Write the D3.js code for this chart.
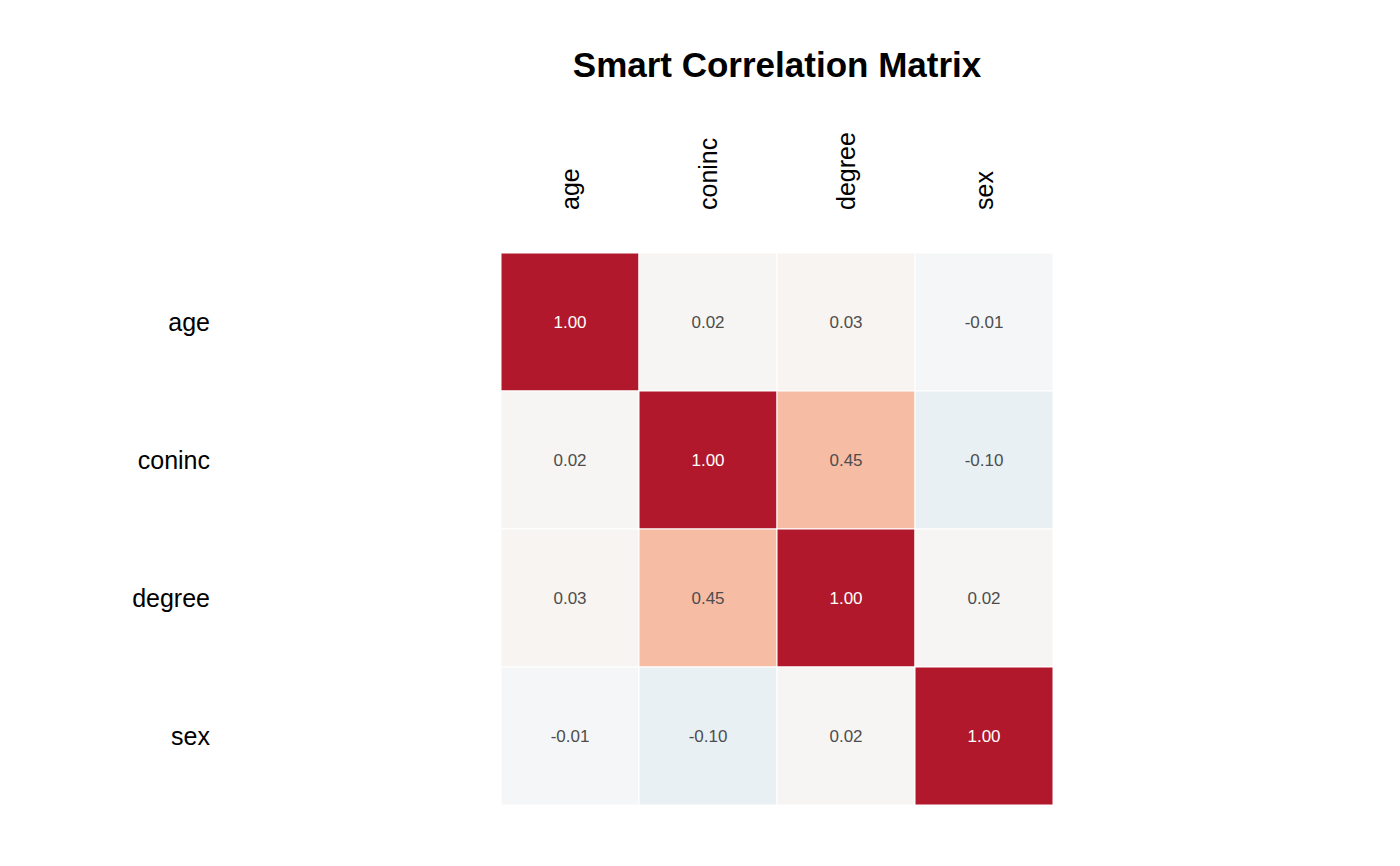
<!DOCTYPE html>
<html>
<head>
<meta charset="utf-8">
<script src="https://cdn.jsdelivr.net/npm/d3@7"></script>
<style>
  html, body { margin: 0; padding: 0; background: #ffffff; }
  svg { display: block; font-family: "Liberation Sans", Arial, Helvetica, sans-serif; }
</style>
</head>
<body>
<svg id="chart" width="1400" height="866"></svg>
<script>
// ---- data ----
const variables = ["age", "coninc", "degree", "sex"];
const rowAge    = [1.00, 0.02, 0.03, -0.01];
const rowConinc = [0.02, 1.00, 0.45, -0.10];
const rowDegree = [0.03, 0.45, 1.00, 0.02];
const rowSex    = [-0.01, -0.10, 0.02, 1.00];
const matrixRows = [rowAge, rowConinc, rowDegree, rowSex];
const titleText = "Smart Correlation Matrix";

// palette stops (RdBu-like)
const colorStops = [-1, -0.75, -0.5, -0.25, 0, 0.25, 0.5, 0.75, 1];
const colorRange = ["#2166AC", "#4393C3", "#92C5DE", "#D1E5F0", "#F7F7F7", "#FDDBC7", "#F6B49B", "#D6604D", "#B2182B"];

const cells = [];
matrixRows.forEach((row, i) => row.forEach((v, j) => cells.push({ row: variables[i], col: variables[j], value: v })));

const svg = d3.select("#chart");
const gridLeft = 501, gridTop = 253, gridSize = 552;

const x = d3.scaleBand().domain(variables).range([gridLeft, gridLeft + gridSize]);
const y = d3.scaleBand().domain(variables).range([gridTop, gridTop + gridSize]);
const color = d3.scaleLinear().domain(colorStops).range(colorRange).interpolate(d3.interpolateRgb);

svg.append("g").selectAll("rect").data(cells).join("rect")
  .attr("x", d => x(d.col))
  .attr("y", d => y(d.row))
  .attr("width", x.bandwidth())
  .attr("height", y.bandwidth())
  .attr("fill", d => color(d.value))
  .attr("stroke", "#ffffff")
  .attr("stroke-width", 1);

svg.append("g").selectAll("text").data(cells).join("text")
  .attr("x", d => x(d.col) + x.bandwidth() / 2)
  .attr("y", d => y(d.row) + y.bandwidth() / 2)
  .attr("dy", "0.35em")
  .attr("text-anchor", "middle")
  .attr("font-size", 17)
  .attr("fill", d => Math.abs(d.value) > 0.6 ? "#ffffff" : "#4D4D4D")
  .text(d => d.value.toFixed(2));

// row labels
svg.append("g").selectAll("text").data(variables).join("text")
  .attr("x", 210)
  .attr("y", d => y(d) + y.bandwidth() / 2)
  .attr("dy", "0.35em")
  .attr("text-anchor", "end")
  .attr("font-size", 25)
  .attr("fill", "#000000")
  .text(d => d);

// column labels
svg.append("g").selectAll("text").data(variables).join("text")
  .attr("transform", d => `translate(${x(d) + x.bandwidth() / 2},210) rotate(-90)`)
  .attr("dy", "0.35em")
  .attr("text-anchor", "start")
  .attr("font-size", 25)
  .attr("fill", "#000000")
  .text(d => d);

// title
svg.append("text")
  .attr("x", gridLeft + gridSize / 2)
  .attr("y", 77)
  .attr("text-anchor", "middle")
  .attr("font-size", 35)
  .attr("font-weight", "bold")
  .attr("fill", "#000000")
  .text(titleText);
</script>
</body>
</html>
